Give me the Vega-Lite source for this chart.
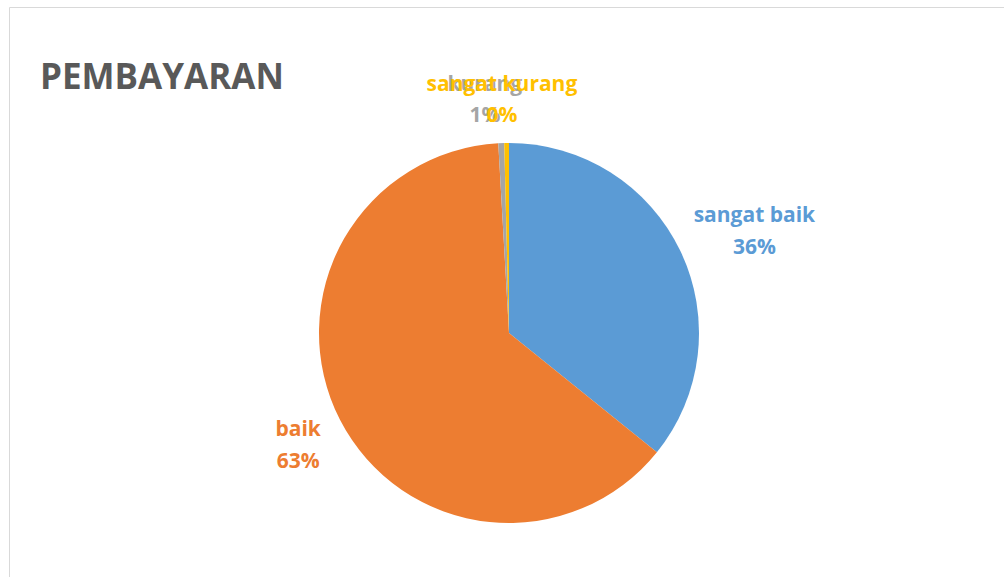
{
  "$schema": "https://vega.github.io/schema/vega-lite/v6.json",
  "autosize": "none",
  "width": 1000,
  "height": 652,
  "padding": {"left": 9, "top": 7, "right": 0, "bottom": 0},
  "background": "white",
  "view": {"stroke": "#d9d9d9", "strokeWidth": 1},
  "config": {
    "view": {"stroke": "#d9d9d9", "strokeWidth": 1},
    "font": "Open Sans"
  },
  "title": {
    "text": "PEMBAYARAN",
    "anchor": "start",
    "frame": "group",
    "orient": "top",
    "offset": -117,
    "baseline": "alphabetic",
    "dx": 31,
    "font": "Open Sans",
    "fontSize": 35,
    "fontWeight": "bold",
    "color": "#595959"
  },
  "data": {
    "values": [
      {"kategori": "sangat baik", "persen": 35.8, "label": "36%", "urutan": 1},
      {"kategori": "baik", "persen": 63.3, "label": "63%", "urutan": 2},
      {"kategori": "kurang", "persen": 0.5, "label": "1%", "urutan": 3},
      {"kategori": "sangat kurang", "persen": 0.4, "label": "0%", "urutan": 4}
    ]
  },
  "transform": [
    {"stack": "persen", "groupby": [], "sort": [{"field": "urutan", "order": "ascending"}], "as": ["awal", "akhir"]},
    {"calculate": "(datum.awal + datum.akhir) / 2", "as": "tengah"}
  ],
  "encoding": {
    "color": {
      "field": "kategori",
      "type": "nominal",
      "scale": {
        "domain": ["sangat baik", "baik", "kurang", "sangat kurang"],
        "range": ["#5b9bd5", "#ed7d31", "#a5a5a5", "#ffc000"]
      },
      "legend": null
    }
  },
  "layer": [
    {
      "mark": {"type": "arc", "outerRadius": 190, "stroke": null},
      "encoding": {
        "theta": {"field": "awal", "type": "quantitative", "stack": null, "scale": {"domain": [0, 100]}},
        "theta2": {"field": "akhir"}
      }
    },
    {
      "transform": [{"filter": "datum.kategori == 'sangat baik'"}],
      "mark": {"type": "text", "radius": 272, "fontSize": 21, "fontWeight": "bold", "lineHeight": 32, "align": "center", "baseline": "middle"},
      "encoding": {
        "theta": {"field": "tengah", "type": "quantitative", "stack": null, "scale": {"domain": [0, 100]}},
        "text": {"value": ["sangat baik", "36%"]}
      }
    },
    {
      "transform": [{"filter": "datum.kategori == 'baik'"}],
      "mark": {"type": "text", "radius": 237, "dy": -11, "fontSize": 21, "fontWeight": "bold", "lineHeight": 32, "align": "center", "baseline": "middle"},
      "encoding": {
        "theta": {"field": "tengah", "type": "quantitative", "stack": null, "scale": {"domain": [0, 100]}},
        "text": {"value": ["baik", "63%"]}
      }
    },
    {
      "transform": [{"filter": "datum.kategori == 'kurang'"}],
      "mark": {"type": "text", "radius": 248, "dx": -14, "fontSize": 21, "fontWeight": "bold", "lineHeight": 31, "align": "center", "baseline": "middle"},
      "encoding": {
        "theta": {"field": "tengah", "type": "quantitative", "stack": null, "scale": {"domain": [0, 100]}},
        "text": {"value": ["kurang", "1%"]}
      }
    },
    {
      "transform": [{"filter": "datum.kategori == 'sangat kurang'"}],
      "mark": {"type": "text", "radius": 248, "dx": -4, "fontSize": 21, "fontWeight": "bold", "lineHeight": 31, "align": "center", "baseline": "middle"},
      "encoding": {
        "theta": {"field": "tengah", "type": "quantitative", "stack": null, "scale": {"domain": [0, 100]}},
        "text": {"value": ["sangat kurang", "0%"]}
      }
    }
  ]
}
